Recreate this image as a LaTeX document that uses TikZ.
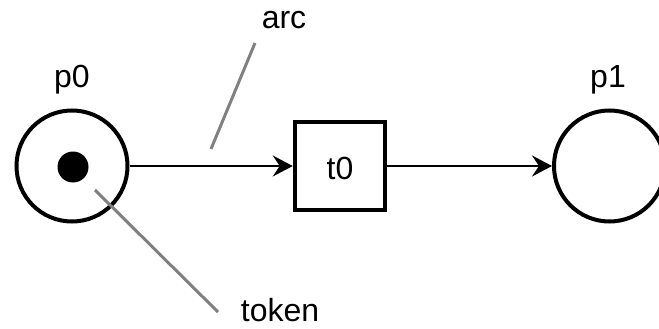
\documentclass[tikz,border=0pt]{standalone}
\usepackage{fontspec}
\setmainfont{Liberation Sans}
\usetikzlibrary{arrows.meta}
\begin{document}
\begin{tikzpicture}[x=1pt,y=-1pt,
  every node/.style={font=\fontsize{32}{38}\selectfont},
  place/.style={draw, circle, line width=4pt, minimum size=111pt, inner sep=0pt},
  transition/.style={draw, rectangle, line width=4.5pt, minimum width=90pt, minimum height=88pt, inner sep=0pt},
  tokendot/.style={fill, circle, minimum size=31pt, inner sep=0pt},
  flow/.style={line width=2.4pt, -{Stealth[length=20pt, width=21pt, inset=7pt]}},
  pointer/.style={draw=black!50, line width=3pt},
  caption/.style={inner sep=0pt, anchor=center}
]
\useasboundingbox (0,0) rectangle (659,329);

% places, transition and the token
\node[place] (p0) at (72,166) {};
\node[place] (p1) at (609.5,166) {};
\node[transition] (t0) at (340,166) {};
\node[caption] at (t0.center) [yshift=-2pt] (t0label) {t0};
\node[tokendot] (tok) at (73,167) {};

% place names
\node[caption] (p0label) at (72,80) {p0};
\node[caption] (p1label) at (608,80) {p1};

% arcs
\draw[flow] (p0) -- (t0);
\draw[flow] (t0) -- (p1);

% annotations
\node[caption] (arclabel) at (284,20) {arc};
\node[caption] (toklabel) at (280,310) {token};
\coordinate (arcTail) at (255,43);
\coordinate (arcTip) at (211,149);
\coordinate (tokTail) at (218,312);
\coordinate (tokTip) at (95,190);
\draw[pointer] (arcTail) -- (arcTip);
\draw[pointer] (tokTail) -- (tokTip);
\end{tikzpicture}
\end{document}
